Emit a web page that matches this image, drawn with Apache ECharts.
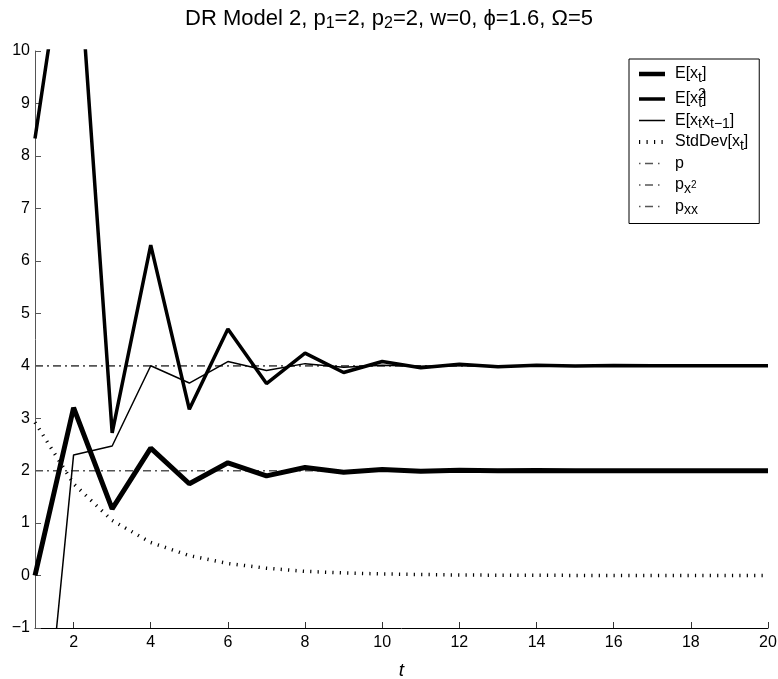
<!DOCTYPE html>
<html><head><meta charset="utf-8">
<script src="https://cdn.jsdelivr.net/npm/echarts@6/dist/echarts.min.js"></script>
<style>html,body{margin:0;padding:0;background:#fff}#c{width:778px;height:679px}</style>
</head><body><div id="c"></div>
<script>
const tValues = [1,2,3,4,5,6,7,8,9,10,11,12,13,14,15,16,17,18,19,20];
const meanX   = [0,3.2,1.27,2.43,1.75,2.15,1.9,2.06,1.97,2.02,1.99,2.005,1.998,2.002,2,2,2,2,2,2];
const meanX2  = [8.33,13.24,2.72,6.3,3.17,4.7,3.66,4.24,3.87,4.08,3.96,4.03,3.98,4.01,3.995,4.003,3.998,4.001,4,4];
const meanXX  = [-5.2,2.3,2.47,4.0,3.67,4.08,3.91,4.04,3.97,4.01,3.99,4.005,3.998,4.001,4,4,4,4,4,4];
const stdDevX = [2.92,1.75,1.05,0.63,0.38,0.23,0.14,0.08,0.05,0.03,0.02,0.01,0.007,0.004,0.003,0.002,0.001,0.001,0,0];
const refP    = [2];
const refPx2  = [4];
const refPxx  = [4];
const xTicks  = [2,4,6,8,10,12,14,16,18,20];

const pairs = arr => tValues.map((t,i)=>[t,arr[i]]);
const flat = v => [[tValues[0], v], [tValues[tValues.length-1], v]];

const names = ['Ex','Ex2','Exx','Std','p','px2','pxx'];
const legendText = {
  Ex: '{n|E[x}{sub|t}{n|]}',
  Ex2: '{n|E[x}{sup0|2}{sub|t}{n|]}',
  Exx: '{n|E[x}{sub|t}{n|x}{sub|t−1}{n|]}',
  Std: '{n|StdDev[x}{sub|t}{n|]}',
  p: '{n|p}{sub| }',
  px2: '{n|p}{sub|x}{tinysup|2}',
  pxx: '{n|p}{sub|xx}'
};
// legend icon shapes (bounding frame 31x14, drawn glyph inside)
const frame = 'M0,0L0,14M31,0L31,14';
const legendIcons = {
  Ex:  'path://' + frame + 'M0,4.8h26v4.4h-26z',
  Ex2: 'path://' + frame + 'M0,5.2h26v3.6h-26z',
  Exx: 'path://' + frame + 'M0,6.3h26v1.4h-26z',
  Std: 'path://' + frame + 'M0,5h1.2v4h-1.2zM7.5,5h1.2v4h-1.2zM15,5h1.2v4h-1.2zM22.5,5h1.2v4h-1.2z',
  p:   'path://' + frame + 'M0,6.3h1.5v1.4h-1.5zM6,6.3h8v1.4h-8zM19,6.3h1.5v1.4h-1.5z',
  px2: 'path://' + frame + 'M0,6.3h1.5v1.4h-1.5zM6,6.3h8v1.4h-8zM19,6.3h1.5v1.4h-1.5z',
  pxx: 'path://' + frame + 'M0,6.3h1.5v1.4h-1.5zM6,6.3h8v1.4h-8zM19,6.3h1.5v1.4h-1.5z'
};
const dashDot = [8,4,2,4];
const refColor = '#555';
const FF = 'Liberation Sans, Arial, sans-serif';

const chart = echarts.init(document.getElementById('c'));
chart.setOption({
  animation: false,
  backgroundColor: '#fff',
  textStyle: {fontFamily: FF},
  title: {
    text: '{n|DR Model 2, p}{sub|1}{n|=2, p}{sub|2}{n|=2, w=0, ϕ=1.6, Ω=5}',
    left: 'center', top: 0,
    textStyle: {
      fontWeight: 'normal',
      rich: {
        n: {fontSize: 22, color: '#000', fontFamily: FF, fontWeight: 'normal'},
        sub: {fontSize: 16, color: '#000', padding: [11,0,0,0], fontFamily: FF, fontWeight: 'normal'}
      }
    }
  },
  grid: {left: 35, right: 10, top: 51, bottom: 51, containLabel: false, outerBoundsMode: 'none'},
  legend: {
    orient: 'vertical',
    left: 629, top: 59,
    width: 130,
    padding: [7, 11, 6, 10],
    itemGap: 2.5,
    itemWidth: 31, itemHeight: 14,
    borderColor: '#000', borderWidth: 1,
    backgroundColor: '#fff',
    borderRadius: 0,
    itemStyle: {borderWidth: 0},
    data: names.map(n => ({name: n, icon: legendIcons[n]})),
    formatter: n => legendText[n],
    textStyle: {
      rich: {
        n: {fontSize: 16, color: '#000', fontFamily: FF},
        sub: {fontSize: 14, color: '#000', padding: [8,0,0,0], fontFamily: FF},
        sup0: {fontSize: 14, color: '#000', padding: [0,0,9,0], width: 0.01, fontFamily: FF},
        tinysup: {fontSize: 10, color: '#000', padding: [0,0,0,0], fontFamily: FF}
      }
    }
  },
  xAxis: {
    type: 'value', min: 1, max: 20,
    name: 't', nameLocation: 'middle', nameGap: 33,
    nameTextStyle: {fontSize: 19, fontStyle: 'italic', color: '#000', fontFamily: FF},
    splitLine: {show: false},
    axisLine: {onZero: false, lineStyle: {color: '#000', width: 1}},
    axisTick: {inside: true, length: 6, customValues: xTicks, lineStyle: {color: '#333'}},
    axisLabel: {customValues: xTicks, fontSize: 16, color: '#000', margin: 7}
  },
  yAxis: {
    type: 'value', min: -1, max: 10, interval: 1,
    splitLine: {show: false},
    axisLine: {show: true, onZero: false, lineStyle: {color: '#555', width: 1}},
    axisTick: {show: true, inside: true, length: 6, lineStyle: {color: '#555'}},
    axisLabel: {fontSize: 16, color: '#000', margin: 5, formatter: v => String(v).replace('-', '−')}
  },
  series: [
    {name: 'Ex', type: 'line', data: pairs(meanX), symbol: 'none', z: 6,
     lineStyle: {color: '#000', width: 5}, itemStyle: {color: '#000'}},
    {name: 'Ex2', type: 'line', data: pairs(meanX2), symbol: 'none', z: 5,
     lineStyle: {color: '#000', width: 3.5}, itemStyle: {color: '#000'}},
    {name: 'Exx', type: 'line', data: pairs(meanXX), symbol: 'none', z: 4,
     lineStyle: {color: '#000', width: 1.5}, itemStyle: {color: '#000'}},
    {name: 'Std', type: 'line', data: pairs(stdDevX), symbol: 'none', z: 3,
     lineStyle: {color: '#000', width: 3.5, type: [1.2,6.2], cap: 'butt'}, itemStyle: {color: '#000'}},
    {name: 'p', type: 'line', data: flat(refP[0]), symbol: 'none', z: 2,
     lineStyle: {color: refColor, width: 1.5, type: dashDot}, itemStyle: {color: refColor}},
    {name: 'px2', type: 'line', data: flat(refPx2[0]), symbol: 'none', z: 2,
     lineStyle: {color: refColor, width: 1.5, type: dashDot}, itemStyle: {color: refColor}},
    {name: 'pxx', type: 'line', data: flat(refPxx[0]), symbol: 'none', z: 2,
     lineStyle: {color: refColor, width: 1.5, type: dashDot}, itemStyle: {color: refColor}}
  ]
});
</script></body></html>
